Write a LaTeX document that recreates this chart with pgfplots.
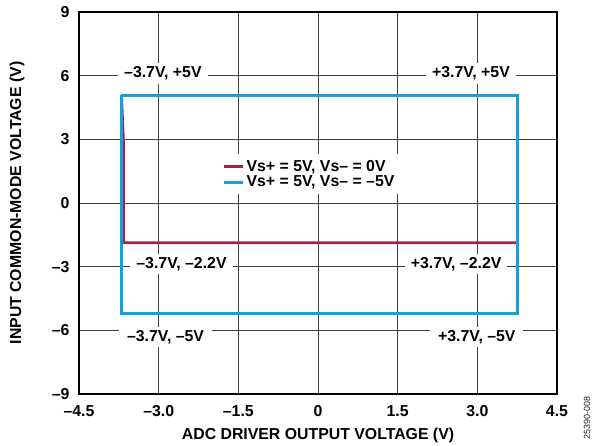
\documentclass[border=0pt]{standalone}
\usepackage{fontspec}
\setmainfont{Liberation Sans}
\usepackage{pgfplots}
\pgfplotsset{compat=1.18}
\definecolor{cred}{HTML}{A6224A}
\definecolor{cblue}{HTML}{15A0D8}
\newcommand{\bigf}{\fontsize{15.9}{15.9}\selectfont\bfseries}
\begin{document}
\begin{tikzpicture}
\begin{axis}[
  width=478bp, height=382bp, scale only axis,
  xmin=-4.5, xmax=4.5, ymin=-9, ymax=9,
  xtick={-4.5,-3,-1.5,0,1.5,3,4.5},
  xticklabels={–4.5,–3.0,–1.5,0,1.5,3.0,4.5},
  ytick={-9,-6,-3,0,3,6,9},
  yticklabels={–9,–6,–3,0,3,6,9},
  major tick length=0pt,
  grid=major,
  grid style={line width=0.9bp, color=black!75},
  axis line style={line width=1.4bp},
  tick label style={font=\bigf},
  xticklabel style={yshift=-8bp},
  yticklabel style={xshift=-6bp},
  label style={font=\bigf},
  xlabel={ADC DRIVER OUTPUT VOLTAGE (V)},
  ylabel={INPUT COMMON-MODE VOLTAGE (V)},
  xlabel style={at={(axis description cs:0.5,-0.1073)}, anchor=center},
  ylabel style={at={(axis description cs:-0.1297,0.5)}, anchor=center, rotate=0},
  clip=false,
  legend cell align=left,
  legend style={at={(axis cs:-1.86,2.30)}, anchor=north west, draw=none, fill=white,
    font=\bigf, row sep=-1bp, inner xsep=3bp, inner ysep=4bp},
  legend image code/.code={\draw[#1, line width=3.2bp] (0bp,0bp) -- (19bp,0bp);},
]
\addplot[cred, line width=2.8bp, line join=miter] coordinates {(-3.70,5.07) (-3.66,2.7) (-3.66,-1.87) (3.73,-1.87)};
\addlegendentry{Vs+ = 5V, Vs– = 0V}
\addplot[cblue, line width=2.8bp, line join=miter] coordinates {(-3.7,5.07) (3.76,5.07) (3.76,-5.2) (-3.7,-5.2) (-3.7,5.07)};
\addlegendentry{Vs+ = 5V, Vs– = –5V}
\node[fill=white, font=\bigf, inner xsep=6bp] at (axis cs:-2.92,6.1) {–3.7V, +5V};
\node[fill=white, font=\bigf, inner xsep=6bp] at (axis cs:2.88,6.1) {+3.7V, +5V};
\node[fill=white, font=\bigf, inner xsep=6bp] at (axis cs:-2.57,-2.88) {–3.7V, –2.2V};
\node[fill=white, font=\bigf, inner xsep=6bp] at (axis cs:2.60,-2.88) {+3.7V, –2.2V};
\node[fill=white, font=\bigf, inner xsep=8bp] at (axis cs:-2.87,-6.3) {–3.7V, –5V};
\node[fill=white, font=\bigf, inner xsep=8bp] at (axis cs:2.99,-6.3) {+3.7V, –5V};
\end{axis}
\node[rotate=90, font=\fontsize{9}{9}\selectfont, anchor=center, text=black!85] at ([xshift=30bp,yshift=-24bp]current axis.south east) {25390-008};
\path ([xshift=-79bp,yshift=-51bp]current axis.south west) rectangle ([xshift=37bp,yshift=12bp]current axis.north east);
\end{tikzpicture}
\end{document}
